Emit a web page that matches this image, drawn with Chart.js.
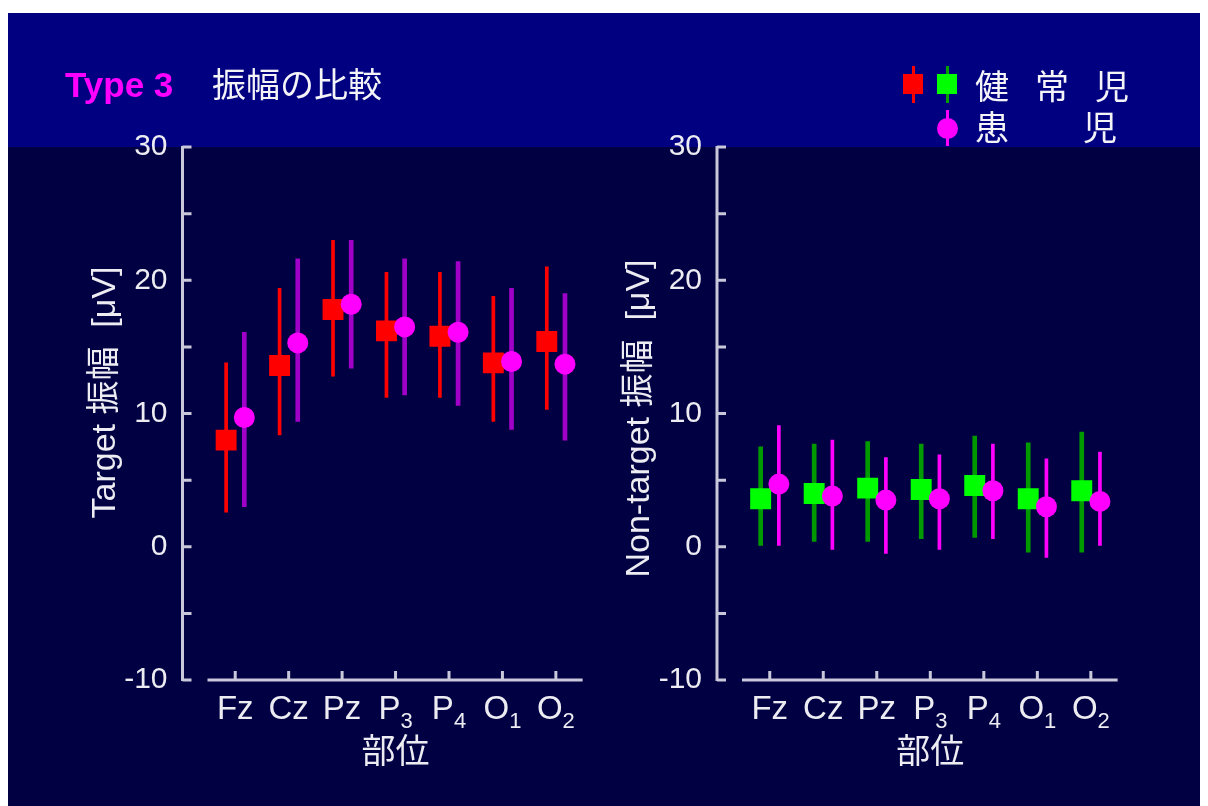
<!DOCTYPE html>
<html>
<head>
<meta charset="utf-8">
<script src="https://cdn.jsdelivr.net/npm/chart.js@4.4.1/dist/chart.umd.min.js"></script>
<style>
  html, body { margin: 0; padding: 0; background: #fff; }
  body { width: 1208px; height: 806px; position: relative; overflow: hidden;
         font-family: "Liberation Sans", Arial, "Noto Sans CJK JP", sans-serif; }
  #bg { position: absolute; left: 8px; top: 13px; width: 1192px; height: 793px; background: #000042; }
  #band { position: absolute; left: 8px; top: 13px; width: 1192px; height: 134px; background: #000080; }
  canvas { position: absolute; top: 0; }
  #leftChart { left: 0; }
  #rightChart { left: 604px; }
  .txt { position: absolute; white-space: pre; font-size: 34px; line-height: 34px; color: #f4f4f8; }
  .type { color: #ff00ff; font-weight: bold; font-size: 35px; }
  .ja { font-family: "Noto Sans CJK JP", sans-serif; }
  .stem { position: absolute; width: 3px; }
  .box { position: absolute; width: 20px; height: 20px; }
  .dot { position: absolute; width: 21px; height: 21px; border-radius: 50%; }
</style>
</head>
<body>
<div id="bg"></div>
<div id="band"></div>
<canvas id="leftChart" width="604" height="806"></canvas>
<canvas id="rightChart" width="604" height="806"></canvas>

<div class="txt type" style="left:65px;top:68px;">Type 3</div>
<div class="txt ja" style="left:212px;top:66px;">振幅の比較</div>

<div class="stem" style="left:912px;top:66px;height:37px;background:#ff0000;"></div>
<div class="box" style="left:903px;top:74px;background:#ff0000;"></div>
<div class="stem" style="left:946px;top:66px;height:37px;background:#00a000;"></div>
<div class="box" style="left:937px;top:74px;background:#00ff00;"></div>
<div class="txt ja" style="left:975px;top:68px;letter-spacing:26px;">健常児</div>
<div class="stem" style="left:946px;top:110px;height:36px;background:#ff00ff;"></div>
<div class="dot" style="left:937px;top:118px;background:#ff00ff;"></div>
<div class="txt ja" style="left:975px;top:109px;">患<span style="margin-left:74px;">児</span></div>

<script>
const sites = ["Fz", "Cz", "Pz", "P3", "P4", "O1", "O2"];
const yTickLabels = [-10, 0, 10, 20, 30];

// Target amplitude [μV]
const targetHealthy   = [8.0, 13.6, 17.8, 16.2, 15.8, 13.8, 15.4];
const targetHealthyHi = [13.8, 19.4, 23.0, 20.6, 20.6, 18.8, 21.0];
const targetHealthyLo = [2.6, 8.4, 12.8, 11.2, 11.2, 9.4, 10.3];
const targetPatient   = [9.7, 15.3, 18.2, 16.5, 16.1, 13.9, 13.7];
const targetPatientHi = [16.1, 21.6, 23.0, 21.6, 21.4, 19.4, 19.0];
const targetPatientLo = [3.0, 9.4, 13.4, 11.4, 10.6, 8.8, 8.0];

// Non-target amplitude [μV]
const nonHealthy   = [3.6, 4.0, 4.4, 4.3, 4.6, 3.6, 4.2];
const nonHealthyHi = [7.5, 7.7, 7.9, 7.7, 8.3, 7.8, 8.6];
const nonHealthyLo = [0.1, 0.4, 0.4, 0.6, 0.7, -0.4, -0.4];
const nonPatient   = [4.7, 3.8, 3.5, 3.6, 4.2, 3.0, 3.4];
const nonPatientHi = [9.1, 8.0, 6.7, 6.9, 7.7, 6.6, 7.1];
const nonPatientLo = [0.1, -0.2, -0.5, -0.2, 0.6, -0.8, 0.1];

const SHIFT = 0.17;          // healthy left of the site, patients right of it
const FONT = '"Liberation Sans", Arial, "Noto Sans CJK JP", sans-serif';
const TEXT = "#ececf2";
const AXIS = "#c8c8da";

Chart.defaults.font.family = FONT;

// axes drawn slide-style: y axis detached from x axis, ticks pointing inward
const slideAxes = {
  id: "slideAxes",
  afterDraw(chart, args, opts) {
    const { ctx, chartArea: a, scales: { x, y } } = chart;
    const ax = a.left - opts.gap;
    ctx.save();
    ctx.strokeStyle = AXIS;
    ctx.lineWidth = 3;
    ctx.beginPath();
    ctx.moveTo(ax, y.getPixelForValue(y.max) - 1);
    ctx.lineTo(ax, y.getPixelForValue(y.min) + 1);
    y.ticks.forEach(t => {
      const py = y.getPixelForValue(t.value);
      ctx.moveTo(ax, py);
      ctx.lineTo(ax + 9, py);
    });
    ctx.moveTo(a.left - 1, a.bottom);
    ctx.lineTo(a.right, a.bottom);
    x.ticks.forEach(t => {
      const px = x.getPixelForValue(t.value);
      ctx.moveTo(px, a.bottom);
      ctx.lineTo(px, a.bottom - 9);
    });
    ctx.stroke();

    // site labels with subscript digits
    ctx.fillStyle = TEXT;
    ctx.textBaseline = "alphabetic";
    ctx.textAlign = "left";
    x.ticks.forEach(t => {
      const m = sites[t.value].match(/^([A-Za-z]+)(\d*)$/);
      ctx.font = "33px " + FONT;
      const wb = ctx.measureText(m[1]).width;
      ctx.font = "22px " + FONT;
      const ws = m[2] ? ctx.measureText(m[2]).width : 0;
      const x0 = x.getPixelForValue(t.value) - (wb + ws) / 2;
      const by = a.bottom + 39;
      ctx.font = "33px " + FONT;
      ctx.fillText(m[1], x0, by);
      if (m[2]) {
        ctx.font = "22px " + FONT;
        ctx.fillText(m[2], x0 + wb, by + 9);
      }
    });

    // rotated y title
    ctx.font = "34px " + FONT;
    ctx.translate(a.left - opts.titleOffset, (a.top + a.bottom) / 2 + opts.titleShift);
    ctx.rotate(-Math.PI / 2);
    ctx.textAlign = "center";
    ctx.textBaseline = "middle";
    ctx.fillText(opts.yTitle, 0, 0);
    ctx.restore();
  }
};

function errorBars(lo, hi, dx, color, width, order) {
  return {
    type: "bar",
    data: sites.map((_, i) => ({ x: i + dx, y: [lo[i], hi[i]] })),
    backgroundColor: color,
    borderWidth: 0,
    barThickness: width,
    grouped: false,
    order
  };
}

function markers(vals, dx, style, color, radius, order) {
  return {
    type: "scatter",
    data: sites.map((_, i) => ({ x: i + dx, y: vals[i] })),
    pointStyle: style,
    pointRadius: radius,
    pointHoverRadius: radius,
    backgroundColor: color,
    borderWidth: 0,
    order
  };
}

function makePanel(canvasId, p) {
  return new Chart(document.getElementById(canvasId), {
    type: "scatter",
    data: {
      datasets: [
        errorBars(p.hLo, p.hHi, -SHIFT, p.hBar, p.hBarW, 3),
        errorBars(p.pLo, p.pHi, SHIFT, p.pBar, p.pBarW, 2),
        markers(p.h, -SHIFT, "rect", p.hMark, 14.8, 1),
        markers(p.p, SHIFT, "circle", "#ff00ff", 10.5, 0)
      ]
    },
    options: {
      responsive: false,
      animation: false,
      events: [],
      layout: { padding: { top: 147, right: p.rightPad, bottom: 0, left: 0 } },
      plugins: {
        legend: { display: false },
        tooltip: { enabled: false },
        slideAxes: { gap: 26, titleOffset: 103, titleShift: p.titleShift, yTitle: p.yTitle }
      },
      scales: {
        x: {
          type: "linear",
          min: -0.5,
          max: 6.5,
          offset: false,
          grid: { display: false, drawTicks: false },
          border: { display: false },
          ticks: { display: false },
          afterBuildTicks: s => { s.ticks = sites.map((_, i) => ({ value: i })); },
          afterFit: s => { s.height = 126; },
          title: {
            display: true,
            text: "部位",
            color: TEXT,
            font: { size: 34 },
            padding: { top: 0, bottom: 32 }
          }
        },
        y: {
          min: -10,
          max: 30,
          grid: { display: false, drawTicks: false },
          border: { display: false },
          ticks: {
            stepSize: 5,
            color: TEXT,
            font: { size: 30 },
            padding: 41,
            callback: v => (yTickLabels.includes(v) ? v : "")
          },
          afterFit: s => { s.width = p.leftWidth; }
        }
      }
    },
    plugins: [slideAxes]
  });
}

makePanel("leftChart", {
  h: targetHealthy, hHi: targetHealthyHi, hLo: targetHealthyLo,
  p: targetPatient, pHi: targetPatientHi, pLo: targetPatientLo,
  hBar: "#ff0000", hBarW: 3, hMark: "#ff0000",
  pBar: "#a000c8", pBarW: 4,
  yTitle: "Target 振幅  [μV]", titleShift: -21,
  leftWidth: 208.5, rightPad: 21.4
});

makePanel("rightChart", {
  h: nonHealthy, hHi: nonHealthyHi, hLo: nonHealthyLo,
  p: nonPatient, pHi: nonPatientHi, pLo: nonPatientLo,
  hBar: "#009a00", hBarW: 4, hMark: "#00ff00",
  pBar: "#ff00ff", pBarW: 3,
  yTitle: "Non-target 振幅  [μV]", titleShift: 5,
  leftWidth: 139, rightPad: 90.4
});
</script>
</body>
</html>
